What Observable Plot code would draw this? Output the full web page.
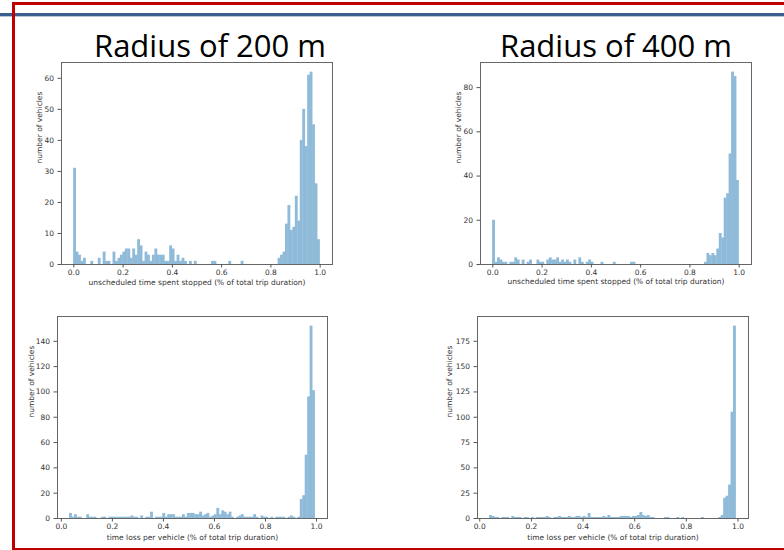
<!DOCTYPE html>
<html>
<head>
<meta charset="utf-8">
<script src="https://cdn.jsdelivr.net/npm/d3@7"></script>
<script src="https://cdn.jsdelivr.net/npm/@observablehq/plot@0.6"></script>
<style>
  html, body { margin: 0; padding: 0; background: #fff; overflow: hidden; }
  #page { position: relative; width: 784px; height: 550px; overflow: hidden; background: #fff; }
  .abs { position: absolute; }
  .title { position: absolute; font-family: "Open Sans", sans-serif; font-size: 31px; line-height: 1; color: #000; white-space: nowrap; }
</style>
</head>
<body>
<div id="page">
  <div class="abs" style="left:0;top:13px;width:784px;height:3px;background:#3b5e91;"></div>
  <div class="abs" style="left:0;top:16px;width:784px;height:1px;background:#b9c6da;"></div>
  <div class="abs" style="left:12px;top:2px;width:790px;height:543px;border:3px solid #c00000;"></div>
  <div class="title" id="t1" style="left:94px;top:30px;"></div>
  <div class="title" id="t2" style="left:500px;top:30px;"></div>
</div>
<script>
// ---- Data ----
const titles = ["Radius of 200 m", "Radius of 400 m"];
const xLabelStopped = "unscheduled time spent stopped (% of total trip duration)";
const xLabelLoss = "time loss per vehicle (% of total trip duration)";
const yLabel = "number of vehicles";
const xTicks = [0, 0.2, 0.4, 0.6, 0.8, 1.0];

// 100-bin histograms; each list gives counts of bins 0..99
const stopped200Range = [0.0, 1.0];
const stopped200Counts = [
  31,4,3,1,2,0,0,1,0,0,
  2,0,4,1,1,0,4,1,2,3,
  4,5,5,2,5,3,8,6,1,4,
  3,1,3,5,3,3,3,1,1,6,
  5,1,3,1,2,1,0,1,0,1,
  0,0,0,0,0,0,1,1,0,0,
  0,0,0,1,0,0,0,0,1,0,
  0,0,0,0,0,0,0,0,0,0,
  0,0,0,2,3,4,13,19,11,12,
  22,14,40,50,38,61,62,45,26,8
];
const stopped200YTicks = [0, 10, 20, 30, 40, 50, 60];

const stopped400Range = [0.0, 1.0];
const stopped400Counts = [
  20,1,3,2,1,1,0,1,1,3,
  2,0,2,0,1,2,0,0,2,1,
  1,0,2,3,2,2,3,1,2,1,
  2,1,0,2,0,3,1,0,1,2,
  1,0,0,0,1,0,0,0,0,1,
  0,0,0,0,0,0,1,1,0,0,
  0,0,0,0,0,0,0,0,0,0,
  0,0,0,0,0,0,0,0,0,0,
  0,0,0,0,0,0,1,5,4,5,
  4,7,14,12,30,32,50,87,85,38
];
const stopped400YTicks = [0, 20, 40, 60, 80];

const loss200Range = [0.033, 0.995];
const loss200Counts = [
  4,1,3,1,1,0,0,3,1,1,
  1,0,0,1,1,0,1,1,1,1,
  1,1,1,1,1,2,1,1,0,2,
  0,1,1,5,0,1,1,1,4,1,
  3,3,3,1,1,1,3,1,4,4,
  4,3,3,5,2,3,4,1,2,3,
  8,3,6,5,3,5,1,0,1,2,
  3,1,1,1,1,3,1,0,2,1,
  1,0,1,0,1,1,1,1,0,1,
  2,1,0,1,15,18,50,96,152,101
];
const loss200YTicks = [0, 20, 40, 60, 80, 100, 120, 140];

const loss400Range = [0.039, 0.993];
const loss400Counts = [
  3,2,1,1,0,1,1,1,0,2,
  1,1,1,0,1,1,0,1,0,1,
  1,1,1,2,1,0,1,1,2,1,
  1,1,2,1,1,2,2,1,2,1,
  5,1,1,1,1,1,2,1,3,1,
  1,1,1,2,2,2,2,1,2,2,
  3,6,3,2,3,1,1,0,0,0,
  0,1,1,0,0,0,1,0,1,0,
  0,0,0,0,0,0,1,0,0,0,
  0,0,0,1,3,20,22,33,105,190
];
const loss400YTicks = [0, 25, 50, 75, 100, 125, 150, 175];

// ---- Drawing ----
document.getElementById("t1").textContent = titles[0];
document.getElementById("t2").textContent = titles[1];

function toBins(range, counts) {
  const [lo, hi] = range;
  const w = (hi - lo) / counts.length;
  return counts.map((c, i) => ({x1: lo + i * w, x2: lo + (i + 1) * w, count: c})).filter(d => d.count > 0);
}

function panel(cfg) {
  const mL = 45, mR = 15, mT = 8, mB = 32;
  const width = (cfg.frame[1] - cfg.frame[0]) + mL + mR;
  const height = (cfg.frame[3] - cfg.frame[2]) + mT + mB;
  const [lo, hi] = cfg.range;
  const pad = 0.05 * (hi - lo);
  const ymax = d3.max(cfg.counts) * 1.05;
  const chart = Plot.plot({
    width, height,
    marginLeft: mL, marginRight: mR, marginTop: mT, marginBottom: mB,
    style: {fontFamily: "DejaVu Sans, sans-serif", fontSize: "7.5px", color: "#333", background: "transparent", overflow: "visible"},
    x: {domain: [lo - pad, hi + pad]},
    y: {domain: [0, ymax]},
    marks: [
      Plot.rect(toBins(cfg.range, cfg.counts), {x1: "x1", x2: "x2", y1: 0, y2: "count", fill: "#8fbbd9", insetLeft: -0.2, insetRight: -0.2}),
      Plot.frame({stroke: "#666", strokeWidth: 1}),
      Plot.axisX({ticks: xTicks, tickFormat: d3.format(".1f"), tickSize: 3.5, tickPadding: 1.5, label: null, stroke: "#555"}),
      Plot.axisY({ticks: cfg.yTicks, tickFormat: d3.format("d"), tickSize: 3.5, tickPadding: 4, label: null, stroke: "#555"}),
      Plot.text([cfg.xLabel], {text: d => d, frameAnchor: "bottom", lineAnchor: "middle", dy: cfg.xLabelDy, fill: "#333"}),
      Plot.text([yLabel], {text: d => d, frameAnchor: "left", lineAnchor: "middle", dx: cfg.yLabelDx, rotate: -90, fill: "#333"})
    ]
  });
  chart.style.position = "absolute";
  chart.style.left = (cfg.frame[0] - mL) + "px";
  chart.style.top = (cfg.frame[2] - mT) + "px";
  document.getElementById("page").appendChild(chart);
}

panel({frame: [61, 332, 62, 264], range: stopped200Range, counts: stopped200Counts, yTicks: stopped200YTicks, xLabel: xLabelStopped, xLabelDy: 18, yLabelDx: -22});
panel({frame: [480, 751, 62, 264], range: stopped400Range, counts: stopped400Counts, yTicks: stopped400YTicks, xLabel: xLabelStopped, xLabelDy: 17.5, yLabelDx: -22});
panel({frame: [57, 327, 316, 518], range: loss200Range, counts: loss200Counts, yTicks: loss200YTicks, xLabel: xLabelLoss, xLabelDy: 19.5, yLabelDx: -26});
panel({frame: [477, 748, 316, 518], range: loss400Range, counts: loss400Counts, yTicks: loss400YTicks, xLabel: xLabelLoss, xLabelDy: 19, yLabelDx: -28});
</script>
</body>
</html>
